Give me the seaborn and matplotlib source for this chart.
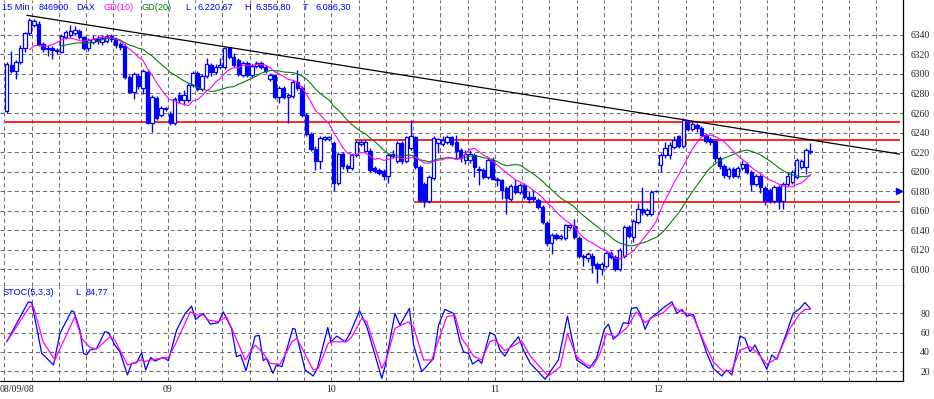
import numpy as np
import pandas as pd
import matplotlib
matplotlib.use("Agg")
import matplotlib.pyplot as plt
import seaborn as sns

# 15 min DAX candles, 08/09/08 .. 12/09/08 (36 slots per trading day)
opens = [6262, 6309, 6303, 6312, 6326, 6342, 6350, 6351, 6331, 6325, 6327, 6323, 6322, 6338, 6340, 6342, 6344, 6338,
         6326, 6333, 6336, 6333, 6334, 6339, 6336, 6331, 6329, 6297, 6282, 6298, 6286, 6302, 6250, 6275, 6258, 6264,
         6259, 6250, 6278, 6273, 6273, 6289, 6301, 6285, 6298, 6309, 6302, 6307, 6307, 6326, 6317, 6314, 6299, 6311,
         6299, 6308, 6311, 6307, 6295, 6299, 6276, 6286, 6276, 6277, 6292, 6286, 6258, 6239, 6223, 6211, 6233, 6233,
         6229, 6188, 6218, 6206, 6204, 6217, 6228, 6221, 6221, 6204, 6202, 6201, 6196, 6216, 6211, 6229, 6211, 6224,
         6235, 6205, 6187, 6170, 6194, 6229, 6228, 6230, 6235, 6230, 6222, 6212, 6212, 6217, 6202, 6202, 6195, 6212,
         6193, 6191, 6183, 6172, 6185, 6179, 6186, 6174, 6174, 6171, 6164, 6148, 6127, 6135, 6132, 6132, 6143, 6144,
         6132, 6114, 6112, 6114, 6106, 6100, 6104, 6117, 6113, 6100, 6114, 6143, 6133, 6149, 6162, 6157, 6157, 6180,
         6207, 6217, 6217, 6225, 6236, 6226, 6251, 6244, 6248, 6245, 6238, 6233, 6231, 6214, 6206, 6196, 6203, 6196,
         6204, 6208, 6200, 6187, 6196, 6183, 6181, 6170, 6184, 6170, 6187, 6189, 6195, 6205, 6205, 6220]
highs = [6312, 6323, 6314, 6330, 6343, 6356.8, 6356, 6354, 6333, 6330, 6329, 6326, 6341, 6345, 6350, 6349, 6346, 6339,
         6337, 6340, 6340, 6340, 6341, 6341, 6338, 6333, 6331, 6299, 6302, 6301, 6305, 6304, 6278, 6277, 6267, 6266,
         6262, 6276, 6281, 6284, 6291, 6303, 6303, 6300, 6316, 6311, 6310, 6316, 6328, 6327, 6321, 6316, 6313, 6313,
         6310, 6313, 6313, 6309, 6301, 6300, 6288, 6288, 6280, 6294, 6304, 6288, 6260, 6241, 6226, 6236, 6236, 6237,
         6231, 6220, 6220, 6208, 6219, 6232, 6232, 6232, 6224, 6206, 6204, 6203, 6219, 6222, 6231, 6231, 6237, 6253,
         6237, 6207, 6189, 6197, 6236, 6234, 6236, 6238, 6237, 6238, 6224, 6222, 6222, 6219, 6206, 6204, 6214, 6215,
         6195, 6193, 6185, 6187, 6193, 6188, 6188, 6180, 6181, 6173, 6166, 6150, 6137, 6137, 6136, 6147, 6147, 6152,
         6134, 6116, 6118, 6117, 6108, 6108, 6119, 6119, 6115, 6122, 6145, 6145, 6152, 6168, 6184, 6163, 6181, 6181,
         6219, 6230, 6230, 6236, 6238, 6255, 6253, 6251, 6250, 6247, 6240, 6235, 6233, 6216, 6208, 6205, 6205, 6206,
         6212, 6210, 6202, 6198, 6198, 6185, 6183, 6186, 6186, 6189, 6200, 6202, 6214, 6213, 6224, 6229]
lows = [6260, 6301, 6295, 6310, 6322, 6340, 6348, 6329, 6322, 6318, 6315, 6320, 6321, 6336, 6338, 6340, 6336, 6324,
        6323, 6331, 6331, 6330, 6332, 6333, 6327, 6324, 6295, 6280, 6274, 6285, 6279, 6249, 6241, 6253, 6256, 6262,
        6248, 6248, 6270, 6268, 6271, 6287, 6283, 6283, 6296, 6298, 6300, 6305, 6305, 6315, 6307, 6298, 6297, 6297,
        6296, 6306, 6305, 6301, 6293, 6274, 6270, 6274, 6250, 6275, 6284, 6256, 6237, 6221, 6202, 6203, 6231, 6231,
        6180, 6186, 6203, 6200, 6202, 6215, 6226, 6219, 6200, 6199, 6197, 6191, 6188, 6214, 6209, 6208, 6209, 6222,
        6203, 6169, 6164, 6168, 6192, 6219, 6226, 6228, 6226, 6214, 6210, 6208, 6209, 6195, 6186, 6193, 6193, 6191,
        6185, 6172, 6157, 6170, 6177, 6177, 6172, 6168, 6170, 6162, 6147, 6124, 6116, 6130, 6130, 6130, 6141, 6131,
        6112, 6104, 6108, 6096, 6086.3, 6094, 6102, 6111, 6098, 6098, 6112, 6132, 6128, 6147, 6156, 6155, 6155, 6179,
        6200, 6214, 6213, 6223, 6224, 6224, 6242, 6242, 6241, 6236, 6229, 6227, 6210, 6203, 6194, 6193, 6194, 6194,
        6202, 6198, 6180, 6185, 6178, 6166, 6168, 6168, 6162, 6162, 6185, 6187, 6193, 6203, 6198, 6218]
closes = [6310, 6303, 6312, 6326, 6342, 6355, 6354, 6331, 6325, 6327, 6324, 6324, 6339, 6343, 6344, 6345, 6338, 6326,
          6335, 6336, 6334, 6337, 6339, 6336, 6330, 6328, 6297, 6282, 6300, 6288, 6303, 6250, 6276, 6255, 6265, 6265,
          6250, 6274, 6273, 6278, 6289, 6301, 6285, 6298, 6310, 6302, 6307, 6309, 6326, 6317, 6309, 6300, 6311, 6299,
          6308, 6311, 6307, 6303, 6299, 6276, 6286, 6276, 6278, 6292, 6286, 6258, 6239, 6223, 6211, 6234, 6235, 6235,
          6188, 6218, 6206, 6204, 6217, 6230, 6230, 6230, 6202, 6201, 6199, 6196, 6217, 6218, 6229, 6211, 6235, 6236,
          6205, 6171, 6170, 6195, 6234, 6233, 6232, 6235, 6228, 6221, 6214, 6218, 6218, 6205, 6203, 6195, 6212, 6193,
          6191, 6181, 6173, 6185, 6179, 6186, 6174, 6172, 6172, 6164, 6149, 6127, 6135, 6132, 6134, 6145, 6145, 6133,
          6114, 6113, 6116, 6105, 6102, 6106, 6117, 6113, 6100, 6120, 6143, 6134, 6150, 6162, 6159, 6161, 6179, 6180.5,
          6217, 6224, 6227, 6232, 6226, 6253, 6244, 6249, 6245, 6238, 6231, 6230, 6214, 6206, 6197, 6203, 6196, 6204,
          6208, 6200, 6187, 6196, 6184, 6170, 6170, 6184, 6170, 6187, 6196, 6200, 6212, 6211, 6222, 6220.67]

# STOC(5,3,3) (bar position, value)
stoch_k_x = [0, 4.75, 5.5, 7.7, 10.3, 11.7, 14.3, 14.8, 16.1, 16.9, 17.6, 18.3, 19.8, 21.6, 22.4, 23.8, 24.9, 26.6,
             27.5, 28.6, 29.7, 30.6, 31.7, 32.6, 34.5, 35.6, 37.4, 39.3, 40.7, 41.6, 43.3, 44.8, 46.6, 47.7, 49.5,
             50.6, 51.5, 52.7, 54.7, 55.6, 56.5, 57.2, 58.6, 59.4, 60.6, 63.0, 63.5, 65.7, 67.5, 68.4, 70.7, 71.4,
             72.7, 74.5, 75.6, 77.7, 79.3, 82.6, 83.3, 85.5, 86.6, 88.7, 89.6, 91.4, 94.0, 95.1, 96.5, 98.4, 99.8,
             100.6, 101.7, 102.6, 103.9, 104.6, 106.4, 107.5, 108.6, 109.7, 110.9, 112.7, 113.8, 115.3, 116.7, 118.6,
             119.7, 121.5, 123.5, 124.4, 125.5, 128.3, 129.9, 131.6, 132.5, 133.6, 134.7, 135.8, 136.9, 137.6, 138.7,
             139.5, 140.6, 141.7, 143.2, 144.6, 146.5, 147.6, 148.7, 149.8, 151.2, 152.7, 154.2, 155.6, 157.5, 158.6,
             159.7, 161.5, 162.6, 163.7, 164.8, 167.4, 168.5, 169.6, 171.8, 173.2, 174.7, 175.8, 177]
stoch_k = [50.5, 92.1, 91.4, 38.4, 26.3, 59.2, 82.8, 81.7, 62.7, 38.4, 36.7, 41.9, 43.6, 60.9, 60.2, 47.1, 40.1, 15.9,
           28.0, 28.7, 39.1, 21.1, 34.2, 30.4, 34.2, 30.8, 62.7, 80.0, 87.6, 73.8, 80.0, 68.9, 70.3, 81.7, 64.4,
           34.9, 36.7, 20.4, 56.4, 57.1, 30.8, 33.2, 17.6, 26.3, 24.5, 64.4, 63.7, 21.1, 14.8, 22.8, 65.4, 50.5,
           56.4, 50.5, 59.2, 82.8, 66.1, 12.4, 24.5, 80.0, 67.9, 85.2, 47.1, 19.3, 33.2, 67.9, 84.2, 80.0, 50.5,
           40.0, 38.4, 27.3, 31.5, 28.0, 60.2, 57.5, 41.9, 35.6, 45.3, 55.7, 41.9, 28.0, 21.1, 11.4,
           19.3, 31.5, 77.2, 55.7, 31.5, 22.8, 33.2, 63.4, 68.9, 53.3, 57.5, 70.3, 69.6, 85.2, 86.2,
           80.0, 63.4, 74.8, 80.0, 85.9, 92.1, 80.0, 84.2, 77.2, 79.0, 59.2, 38.4, 22.8, 14.8, 21.1,
           15.9, 56.4, 54.0, 40.1, 47.1, 21.8, 36.7, 32.2, 60.2, 80.0, 85.2, 91.4, 84.8]
stoch_d_x = [0, 5.1, 5.9, 8.0, 10.6, 12.1, 15.0, 16.5, 18.3, 19.8, 22.7, 23.8, 26.6, 27.9, 29.3, 30.4, 31.5, 35.6,
             37.4, 40.4, 41.8, 43.3, 44.4, 46.6, 48.4, 49.9, 52.5, 54.7, 56.5, 58.0, 60.2, 62.8, 63.9, 67.5, 68.6,
             70.8, 71.9, 74.9, 76.0, 78.2, 79.3, 82.6, 83.7, 85.5, 88.4, 89.6, 91.8, 93.6, 96.9, 98.7, 100.2, 101.9,
             102.8, 104.6, 106.4, 107.5, 109.7, 111.9, 113.4, 115.3, 117.4, 119.3, 121.9, 123.5, 125.5, 127.7, 129.2,
             130.7, 132.1, 134.0, 136.5, 138.7, 140.6, 142.4, 144.6, 146.5, 147.6, 149.8, 151.2, 153.4, 155.6, 157.8,
             159.7, 161.5, 163.7, 165.1, 167.4, 169.6, 172.5, 174.7, 175.8, 177]
stoch_d = [50.5, 87.6, 86.9, 50.5, 31.5, 47.1, 76.5, 54.0, 44.6, 42.9, 55.7, 52.3, 26.3, 28.0, 31.5, 29.7, 31.5, 34.2,
           50.5, 81.7, 78.3, 78.3, 73.1, 71.3, 76.5, 60.9, 31.5, 47.1, 38.4, 28.0, 27.0, 50.5, 54.0, 21.1, 22.8,
           48.8, 50.5, 50.5, 55.7, 74.8, 71.3, 22.8, 33.2, 64.4, 71.3, 66.1, 31.5, 31.5, 76.5, 78.3, 54.0, 42.6,
           35.6, 31.5, 50.5, 52.3, 41.2, 47.1, 51.6, 35.6, 24.5, 14.8, 24.5, 59.2, 34.9, 26.3, 25.2,
           38.4, 59.2, 55.7, 64.4, 81.7, 70.3, 76.5, 80.7, 89.7, 84.2, 80.0, 76.5, 52.3, 29.7, 19.3,
           21.1, 41.9, 45.3, 40.1, 27.0, 33.2, 64.4, 80.0, 84.2, 84.2]

day_labels = ["08/09/08", "09", "10", "11", "12"]
price_ticks = [6100, 6120, 6140, 6160, 6180, 6200, 6220, 6240, 6260, 6280, 6300, 6320, 6340]
stoch_ticks = [20, 40, 60, 80]

# lines drawn by hand on the chart (bar index / price)
trend_x = [4.4, 196.7]
trend_y = [6360, 6218]
red_levels = [6250.5, 6232.5, 6168.5]
red_starts = [-0.4, 76.6, 89.6]
red_end = 196.7
marker_price = 6180

BLUE = "#0000ff"
PINK = "#ff00ff"
GREEN = "#008000"
GRID = "#6e6e6e"
BARS_PER_DAY = 36
W, H = 934, 399

df = pd.DataFrame({"open": opens, "high": highs, "low": lows, "close": closes})
df["bar"] = np.arange(len(df))
df["gd10"] = df["close"].rolling(10, min_periods=6).mean()
df["gd20"] = df["close"].rolling(20, min_periods=13).mean()

k_df = pd.DataFrame({"bar": stoch_k_x, "value": stoch_k})
d_df = pd.DataFrame({"bar": stoch_d_x, "value": stoch_d})

sns.set_style("white")
plt.rcParams["font.family"] = ["Liberation Sans", "DejaVu Sans"]
plt.rcParams["lines.scale_dashes"] = False

fig = plt.figure(figsize=(W / 100, H / 100), dpi=100)
split = 285.7
ax = fig.add_axes([0, (H - split) / H, 903 / W, split / H])
ax2 = fig.add_axes([0, (H - 381) / H, 903 / W, (381 - split) / H], sharex=ax)

grid_kw = dict(color=GRID, linewidth=0.75, linestyle=(0, (2.9, 2.2)))
grid_x = np.arange(-0.5, 197, 6)

for a in (ax, ax2):
    a.set_facecolor("white")
    a.set_axisbelow(True)
    a.grid(True, **grid_kw)
    a.set_xticks(grid_x)
    a.tick_params(axis="x", length=0, labelbottom=False)
    a.yaxis.tick_right()
    a.tick_params(axis="y", length=0, pad=19.4, labelsize=7)
    for s in ["left", "top"]:
        a.spines[s].set_visible(False)
    for s in ["right", "bottom"]:
        a.spines[s].set_color("black")
        a.spines[s].set_linewidth(0.9)

ax.set_xlim(-1.49, 197.4)

# candles: wicks first, then bodies (hollow = up, filled = down)
ax.vlines(df["bar"], df["low"], df["high"], color=BLUE, linewidth=1.0, zorder=3)
body_lo = df[["open", "close"]].min(axis=1)
body_h = (df["close"] - df["open"]).abs().clip(lower=0.6)
faces = [BLUE if c < o else "white" for o, c in zip(df["open"], df["close"])]
ax.bar(df["bar"], body_h, bottom=body_lo, width=0.74, color=faces,
       edgecolor=BLUE, linewidth=0.9, zorder=4)

sns.lineplot(data=df, x="bar", y="gd20", ax=ax, color=GREEN, linewidth=0.8, zorder=5)
sns.lineplot(data=df, x="bar", y="gd10", ax=ax, color=PINK, linewidth=0.8, zorder=5)

ax.hlines(red_levels, red_starts, red_end, color="#ff0000", linewidth=1.2, zorder=2)
ax.plot(trend_x, trend_y, color="black", linewidth=0.9, zorder=2)
ax.plot([196.5], [marker_price], marker=">", markersize=4.5, color=BLUE, clip_on=False, zorder=6)

ax.set_ylim(6083.4, 6375.6)
ax.set_yticks(price_ticks)
ax.set_xlabel("")
ax.set_ylabel("")

sns.lineplot(data=k_df, x="bar", y="value", ax=ax2, color=BLUE, linewidth=0.9, estimator=None)
sns.lineplot(data=d_df, x="bar", y="value", ax=ax2, color=PINK, linewidth=0.9, estimator=None)
ax2.set_ylim(9.6, 108.9)
ax2.set_yticks(stoch_ticks)
ax2.set_xlabel("")
ax2.set_ylabel("")

for a in (ax, ax2):
    for lbl in a.get_yticklabels():
        lbl.set_horizontalalignment("right")
        lbl.set_fontfamily("Liberation Serif")

# day labels under the stochastic panel
for k, txt in enumerate(day_labels):
    pos = k * BARS_PER_DAY - 0.5
    ax2.annotate(txt, xy=(pos, 0), xycoords=("data", "axes fraction"),
                 xytext=(-3.3 if k == 0 else 0, -3), textcoords="offset points",
                 ha="left" if k == 0 else "center", va="top",
                 fontsize=7, family="Liberation Serif")

# header texts
header = [("15 Min", 2, BLUE), ("846900", 39, BLUE), ("DAX", 76, BLUE),
          ("GD(10)", 103, PINK), ("GD(20)", 142, GREEN),
          ("L", 185, BLUE), ("6.220,67", 197, BLUE),
          ("H", 244, BLUE), ("6.356,80", 255, BLUE),
          ("T", 303, BLUE), ("6.086,30", 315, BLUE)]
for txt, px, col in header:
    fig.text(px / W, 1 - 9.5 / H, txt, color=col, fontsize=6.6, va="baseline")

for txt, px in [("STOC(5,3,3)", 3), ("L", 75), ("84,77", 86)]:
    fig.text(px / W, 1 - 295 / H, txt, color=BLUE, fontsize=6.6, va="baseline")

fig.savefig("out.png", dpi=100)
